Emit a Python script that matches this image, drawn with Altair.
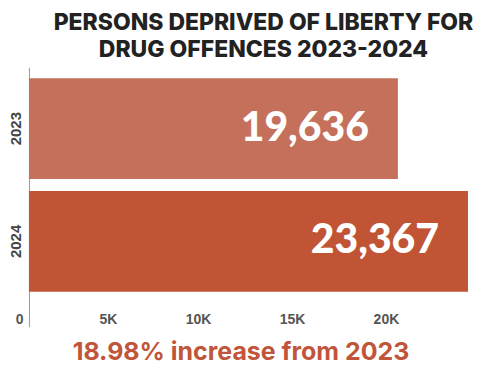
import altair as alt
import pandas as pd

years = ["2023", "2024"]
counts = [19636, 23367]
value_labels = ["19,636", "23,367"]
bar_colors = ["#C5705A", "#C05434"]
tick_values = [0, 5000, 10000, 15000, 20000]
title_lines = ["PERSONS DEPRIVED OF LIBERTY FOR", "DRUG OFFENCES 2023-2024"]
footer = "18.98% increase from 2023"

df = pd.DataFrame({"year": years, "count": counts, "label": value_labels})

base = alt.Chart(df).encode(
    y=alt.Y(
        "year:N",
        sort=years,
        scale=alt.Scale(paddingInner=0.106, paddingOuter=0.2035, align=0.24),
        axis=alt.Axis(
            title=None,
            labelAngle=270,
            labelFont="Liberation Sans",
            labelFontSize=15,
            labelFontWeight="bold",
            labelColor="#444444",
            labelPadding=5,
            ticks=False,
            domainColor="#999999",
            domainWidth=1,
        ),
    ),
    x=alt.X(
        "count:Q",
        scale=alt.Scale(domain=[0, 23367], nice=False),
        axis=alt.Axis(
            values=tick_values,
            labelExpr="datum.value == 0 ? '0' : (datum.value / 1000) + 'K'",
            labelFont="Liberation Sans",
            labelFontSize=14,
            labelFontWeight="bold",
            labelColor="#555555",
            labelAlign="right",
            labelOffset=-6,
            labelPadding=-14,
            domain=False,
            ticks=False,
            grid=False,
            title=footer,
            titleFont="Inter",
            titleFontSize=25,
            titleFontWeight="bold",
            titleColor="#C0553A",
            titleX=212,
            titleY=33,
            titleAlign="center",
            titleBaseline="alphabetic",
        ),
    ),
)

bars = base.mark_bar().encode(
    color=alt.Color("year:N", scale=alt.Scale(domain=years, range=bar_colors), legend=None)
)

text = base.mark_text(
    align="right",
    baseline="middle",
    dx=-29,
    font="Lato",
    fontSize=41,
    fontWeight=900,
    color="white",
).encode(text="label:N")

chart = (
    alt.layer(bars, text)
    .properties(
        width=440,
        height=260,
        padding={"left": 0, "top": 4, "right": 0, "bottom": 0},
        title=alt.TitleParams(
            title_lines,
            font="Inter",
            fontSize=23,
            fontWeight=800,
            color="#222222",
            lineHeight=27,
            anchor="middle",
            dx=15,
            offset=5,
        ),
    )
    .configure_view(stroke=None)
)

chart.save("out.html", embed_options={"renderer": "svg", "actions": False})
